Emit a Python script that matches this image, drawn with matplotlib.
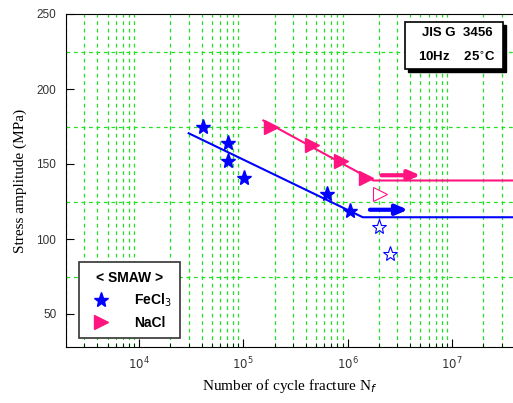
import numpy as np
import matplotlib
matplotlib.use("Agg")
import matplotlib.pyplot as plt
from matplotlib.ticker import LogLocator, FixedLocator, NullFormatter
from matplotlib.patches import Rectangle

# ---- data ----
fecl_n = [4.1e4, 7.2e4, 7.2e4, 1.02e5, 6.3e5, 1.05e6]
fecl_s = [175, 164, 152, 141, 130, 119]
fecl_runout_n = [2.0e6, 2.55e6]
fecl_runout_s = [108, 90]

nacl_n = [1.83e5, 4.6e5, 8.6e5, 1.5e6]
nacl_s = [175, 163, 152, 141]
nacl_runout_n = [2.07e6]
nacl_runout_s = [130]

fecl_fit_n = [3.0e4, 1.4e6, 4e7]
fecl_fit_s = [170.5, 114.5, 114.5]
nacl_fit_n = [1.56e5, 1.77e6, 4e7]
nacl_fit_s = [179, 139, 139]

fecl_arrow = (1.64e6, 3.8e6, 119.5)
nacl_arrow = (2.12e6, 5.0e6, 142.5)

BLUE = "#0000ff"
PINK = "#ff1480"
GREEN = "#22e022"

fig = plt.figure(figsize=(5.13, 4.03), dpi=100)
ax = fig.add_axes([66 / 513, 56 / 403, 448.6 / 513, 333 / 403])

ax.set_xscale("log")
ax.set_xlim(2e3, 4e7)
ax.set_ylim(28, 250)

# fit lines
ax.plot(fecl_fit_n, fecl_fit_s, color=BLUE, lw=1.5, zorder=3)
ax.plot(nacl_fit_n, nacl_fit_s, color=PINK, lw=1.5, zorder=3)

# data
ax.plot(fecl_n, fecl_s, ls="none", marker="*", ms=11, color=BLUE, zorder=4, label="FeCl$_3$")
ax.plot(fecl_runout_n, fecl_runout_s, ls="none", marker="*", ms=11, mfc="white",
        mec=BLUE, mew=0.8, zorder=4)
ax.plot(nacl_n, nacl_s, ls="none", marker=">", ms=10, color=PINK, zorder=4, label="NaCl")
ax.plot(nacl_runout_n, nacl_runout_s, ls="none", marker=">", ms=10, mfc="white",
        mec=PINK, mew=0.8, zorder=4)

# run-out arrows
for (x0, x1, y), c in [(fecl_arrow, BLUE), (nacl_arrow, PINK)]:
    ax.annotate("", xy=(x1, y), xytext=(x0, y),
                arrowprops=dict(arrowstyle="-|>,head_length=0.7,head_width=0.3",
                                lw=3, color=c, shrinkA=0, shrinkB=0), zorder=5)

# ticks and grid
ax.xaxis.set_major_locator(LogLocator(base=10, numticks=10))
ax.xaxis.set_minor_locator(LogLocator(base=10, subs=np.arange(2, 10), numticks=20))
ax.xaxis.set_minor_formatter(NullFormatter())
ax.set_yticks([50, 100, 150, 200, 250])
ax.yaxis.set_minor_locator(FixedLocator([75, 125, 175, 225]))

ax.grid(which="minor", color=GREEN, ls=(0, (3, 3)), lw=0.9)
ax.grid(which="major", visible=False)
ax.tick_params(which="major", direction="in", length=6, width=0.8,
               labelsize=8.5, labelcolor="#333333", pad=6)
ax.tick_params(axis="y", which="major", pad=7)
ax.tick_params(axis="x", which="minor", direction="in", length=3, width=0.6)
ax.tick_params(axis="y", which="minor", length=0)
for lab in ax.get_yticklabels():
    lab.set_fontfamily("Liberation Sans")

ax.spines["right"].set_visible(False)
ax.set_axisbelow(True)

ax.set_xlabel("Number of cycle fracture N$_f$", family="Liberation Serif", fontsize=11, labelpad=4)
ax.set_ylabel("Stress amplitude (MPa)", family="Liberation Serif", fontsize=11, labelpad=7)

# legend
leg = ax.legend(loc="lower left", bbox_to_anchor=(0.013, 0.005), title="< SMAW >",
                prop={"family": "Liberation Sans", "weight": "bold", "size": 10},
                title_fontproperties={"family": "Liberation Sans", "weight": "bold", "size": 10},
                fancybox=False, edgecolor="#333333", framealpha=1, handletextpad=1.4,
                borderpad=0.6, labelspacing=0.5)
leg.get_frame().set_linewidth(1.2)

# info box with shadow
x0, x1, y0, y1 = 0.756, 0.974, 0.835, 0.976
ax.add_patch(Rectangle((x0 + 0.007, y0 - 0.009), x1 - x0, y1 - y0, transform=ax.transAxes,
                       facecolor="black", edgecolor="black", zorder=6))
ax.add_patch(Rectangle((x0, y0), x1 - x0, y1 - y0, transform=ax.transAxes,
                       facecolor="white", edgecolor="black", lw=1.2, zorder=7))
ax.text(0.872, 0.944, "JIS G  3456", transform=ax.transAxes, ha="center", va="center",
        family="Liberation Sans", weight="bold", fontsize=9.5, zorder=8)
ax.text(0.872, 0.869, "10Hz    25$^{\\circ}$C", transform=ax.transAxes, ha="center", va="center",
        family="Liberation Sans", weight="bold", fontsize=9.5, zorder=8)

fig.savefig("out.png", dpi=100)
